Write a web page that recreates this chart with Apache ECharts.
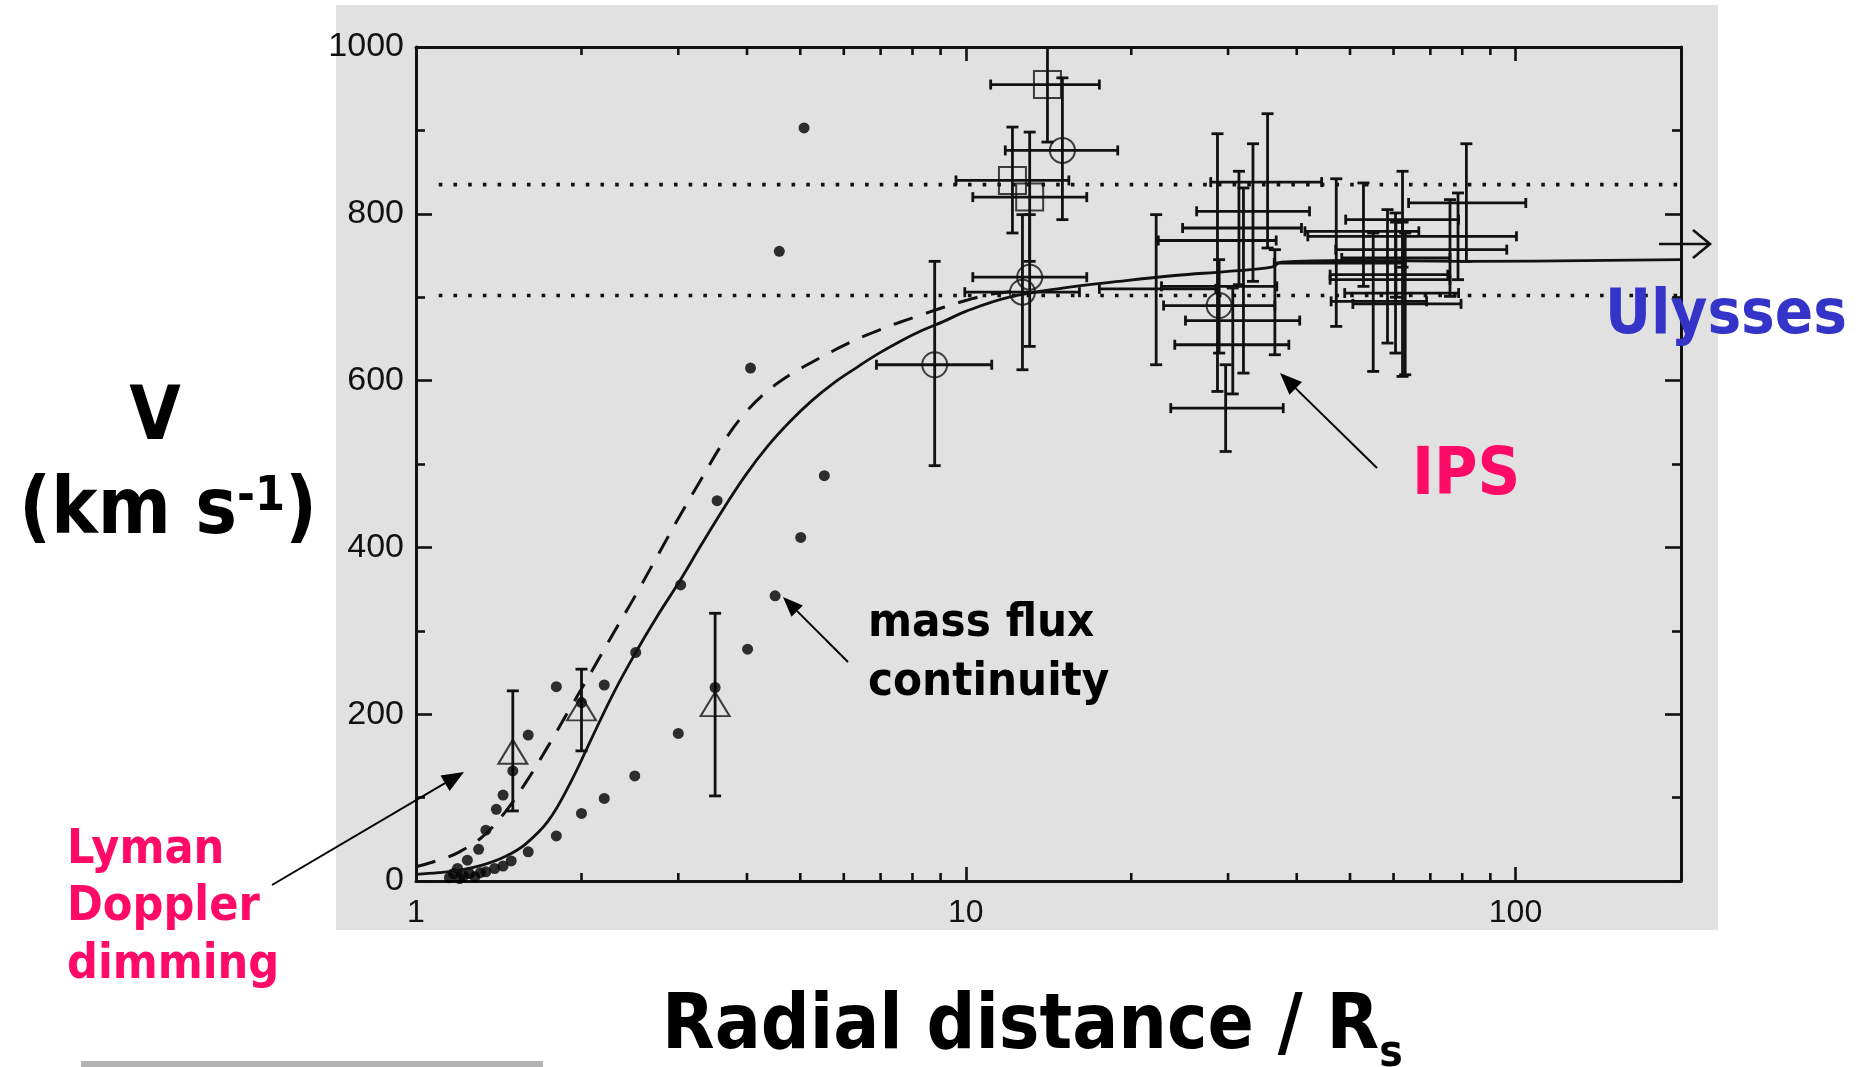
<!DOCTYPE html>
<html>
<head>
<meta charset="utf-8">
<script src="https://cdn.jsdelivr.net/npm/echarts@6/dist/echarts.min.js"></script>
<style>
  html, body { margin: 0; padding: 0; background: #ffffff; }
  #chart { width: 1863px; height: 1067px; }
</style>
</head>
<body>
<div id="chart"></div>
<script>
// ---- Radial distance (R_s) and wind speed (km/s) ----

// Mass-flux-continuity estimates (filled dots)
const massR = [1.15, 1.17, 1.19, 1.20, 1.22, 1.24, 1.25, 1.28, 1.30, 1.31, 1.34, 1.34, 1.39, 1.40, 1.44, 1.44,
               1.49, 1.50, 1.60, 1.60, 1.80, 1.80, 2.00, 2.00, 2.20, 2.20, 2.50, 2.51, 3.00, 3.03, 3.50, 3.53,
               4.01, 4.06, 4.50, 4.58, 5.01, 5.08, 5.53];
const massV = [4, 9, 15, 3, 6, 25, 9, 5, 38, 10, 61, 11, 15, 86, 103, 18,
               24, 132, 35, 175, 54, 233, 81, 214, 99, 235, 126, 274, 177, 355, 232, 456,
               278, 615, 342, 755, 412, 903, 486];

// Lyman-alpha Doppler dimming (open triangles with error bars)
const triR = [1.5, 2.0, 3.5];
const triV = [155, 207, 212];
const triVLo = [84, 156, 102];
const triVHi = [228, 254, 321];

// Open circles with error bars
const circR = [8.78, 14.99, 13.07, 12.68, 28.9];
const circV = [619, 876, 724, 706, 690];
const circRLo = [6.88, 11.8, 10.3, 9.96, 22.9];
const circRHi = [11.15, 18.9, 16.6, 16.1, 36.5];
const circVLo = [498, 793, 641, 613, 633];
const circVHi = [743, 963, 799, 799, 745];

// Open squares with error bars
const sqR = [14.08, 12.16, 13.07];
const sqV = [955, 840, 820];
const sqRLo = [11.1, 9.6, 10.3];
const sqRHi = [17.5, 15.4, 16.6];
const sqVLo = [886, 777, 743];
const sqVHi = [1040, 904, 898];

// IPS measurements (error crosses without a marker)
const ipsR   = [35.4, 33.3, 31.4, 28.7, 32.0, 30.6, 36.5, 29.7, 22.2, 81.4, 78.6, 76.0, 47.2, 52.9, 62.3, 58.5, 60.5, 55.1, 63.0, 62.3, 60.6];
const ipsV   = [838, 803, 783, 768, 713, 643, 672, 567, 710, 813, 773, 757, 741, 779, 793, 727, 721, 695, 692, 705, 747];
const ipsRLo = [27.9, 26.3, 24.8, 22.4, 22.7, 24.0, 25.1, 23.6, 17.5, 63.9, 41.9, 47.1, 36.4, 41.4, 49.1, 46.0, 46.0, 46.2, 50.6, 48.9, 48.3];
const ipsRHi = [44.4, 42.2, 40.8, 36.7, 36.8, 38.7, 40.5, 37.8, 28.5, 104.4, 100.4, 96.4, 63.0, 66.7, 78.8, 75.3, 76.0, 68.9, 79.6, 78.8, 76.0];
const ipsVLo = [759, 719, 715, 587, 609, 584, 631, 515, 619, 743, 721, 701, 665, 713, 736, 645, 633, 611, 607, 605, 700];
const ipsVHi = [920, 884, 851, 896, 831, 711, 757, 619, 799, 884, 825, 817, 842, 837, 851, 805, 801, 777, 777, 790, 790];

// Model curves
const solidR = [1.00, 1.10, 1.20, 1.32, 1.45, 1.58, 1.74, 1.91, 2.09, 2.29, 2.51, 2.75, 3.02, 3.31, 3.63, 3.98,
                4.37, 4.79, 5.25, 5.75, 6.31, 6.92, 7.59, 8.32, 9.12, 10.0, 12, 15, 19, 24, 30, 36, 37.5, 50, 80, 200];
const solidV = [8, 10, 13, 19, 29, 44, 72, 118, 172, 226, 274, 318, 360, 404, 447, 487,
                522, 551, 576, 597, 615, 632, 647, 660, 671, 683, 700, 711, 719, 726, 731, 736, 742, 744, 743, 745];
const dashR = [1.00, 1.10, 1.20, 1.32, 1.45, 1.58, 1.74, 1.91, 2.09, 2.29, 2.51, 2.75, 3.02, 3.31, 3.63, 3.98,
               4.37, 4.79, 5.25, 5.75, 6.31, 6.92, 7.59, 8.32, 9.12, 10.0, 11, 12.5];
const dashV = [17, 25, 35, 53, 82, 117, 162, 208, 252, 298, 343, 390, 438, 483, 527, 562,
               588, 607, 622, 636, 649, 660, 670, 679, 688, 696, 703, 708];

// Ulysses speed band (dotted lines)
const bandR = [1.1, 200];
const bandHigh = 835;
const bandLow = 702;

// Axis ticks and labels
const xLabelVals = ['1', '10', '100'];
const xMinorTicks = [2, 3, 4, 5, 6, 7, 8, 9, 20, 30, 40, 50, 60, 70, 80, 90];
const yMin = 0, yMax = 1000, yStep = 200;

// ---- styling ----
const INK = '#111111';
const PINK = '#ff0a66';
const BLUE = '#3434c8';
const SLIDE_FONT = "'DejaVu Sans Condensed', 'DejaVu Sans', sans-serif";
const PLOT_FONT = "'Liberation Sans', Arial, sans-serif";
const BAR_W = 2.8;

const pairs = (xs, ys) => xs.map((x, i) => [x, ys[i]]);
const crosses = (r, v, rl, rh, vl, vh) => r.map((x, i) => [x, v[i], rl[i], rh[i], vl[i], vh[i]]);

function xAxisDef(position, showLabel) {
  return {
    type: 'log', logBase: 10, min: 1, max: 200, position: position,
    axisLine: { show: true, onZero: false, lineStyle: { color: INK, width: 3 } },
    axisTick: { show: true, inside: true, length: 14, lineStyle: { color: INK, width: 2.6 } },
    axisLabel: {
      show: showLabel, color: INK, fontFamily: PLOT_FONT, fontSize: 32, margin: 16,
      formatter: v => (xLabelVals.indexOf(String(Math.round(v))) >= 0 ? String(Math.round(v)) : '')
    },
    splitLine: { show: false }
  };
}

function yAxisDef(position, showLabel) {
  return {
    type: 'value', min: yMin, max: yMax, interval: yStep, position: position,
    axisLine: { show: true, onZero: false, lineStyle: { color: INK, width: 3 } },
    axisTick: { show: true, inside: true, length: 16, lineStyle: { color: INK, width: 2.6 } },
    minorTick: { show: true, splitNumber: 2, length: 9, lineStyle: { color: INK, width: 2.6 } },
    axisLabel: {
      show: showLabel, color: INK, fontFamily: PLOT_FONT, fontSize: 34, margin: 12,
      formatter: v => String(v)
    },
    splitLine: { show: false }
  };
}

// Error cross: horizontal bar (radial range) and vertical bar (speed range), both capped
function renderCross(params, api) {
  const x = api.value(0), v = api.value(1);
  const xl = api.value(2), xh = api.value(3), vl = api.value(4), vh = api.value(5);
  const style = { stroke: INK, lineWidth: BAR_W, fill: null };
  const cap = 5;
  const kids = [];
  if (xh > xl) {
    const a = api.coord([xl, v]), b = api.coord([xh, v]);
    kids.push({ type: 'line', shape: { x1: a[0], y1: a[1], x2: b[0], y2: b[1] }, style: style });
    kids.push({ type: 'line', shape: { x1: a[0], y1: a[1] - cap, x2: a[0], y2: a[1] + cap }, style: style });
    kids.push({ type: 'line', shape: { x1: b[0], y1: b[1] - cap, x2: b[0], y2: b[1] + cap }, style: style });
  }
  if (vh > vl) {
    const a = api.coord([x, vl]), b = api.coord([x, vh]);
    kids.push({ type: 'line', shape: { x1: a[0], y1: a[1], x2: b[0], y2: b[1] }, style: style });
    kids.push({ type: 'line', shape: { x1: a[0] - cap - 1, y1: a[1], x2: a[0] + cap + 1, y2: a[1] }, style: style });
    kids.push({ type: 'line', shape: { x1: b[0] - cap - 1, y1: b[1], x2: b[0] + cap + 1, y2: b[1] }, style: style });
  }
  return { type: 'group', children: kids };
}

// Intermediate log ticks on the bottom and top frame edges
function renderMinorTick(params, api) {
  const t = api.value(0);
  const b = api.coord([t, yMin]), tp = api.coord([t, yMax]);
  const style = { stroke: INK, lineWidth: 2.6 };
  return {
    type: 'group', children: [
      { type: 'line', shape: { x1: b[0], y1: b[1], x2: b[0], y2: b[1] - 8 }, style: style },
      { type: 'line', shape: { x1: tp[0], y1: tp[1], x2: tp[0], y2: tp[1] + 8 }, style: style }
    ]
  };
}

function arrow(x1, y1, x2, y2, len, wid) {
  const ang = Math.atan2(y2 - y1, x2 - x1);
  const bx = x2 - len * Math.cos(ang), by = y2 - len * Math.sin(ang);
  const nx = -Math.sin(ang) * wid / 2, ny = Math.cos(ang) * wid / 2;
  return [
    { type: 'line', shape: { x1: x1, y1: y1, x2: bx, y2: by }, style: { stroke: '#000', lineWidth: 2 }, z: 50 },
    { type: 'polygon', shape: { points: [[x2, y2], [bx + nx, by + ny], [bx - nx, by - ny]] }, style: { fill: '#000' }, z: 50 }
  ];
}

function label(text, x, y, size, color, align, extra) {
  return {
    type: 'text', x: x, y: y, z: 50,
    style: Object.assign({
      text: text, fill: color, fontSize: size, fontFamily: SLIDE_FONT, fontWeight: 'bold',
      align: align, textAlign: align, verticalAlign: 'middle', textVerticalAlign: 'middle'
    }, extra || {})
  };
}

const hollow = { color: 'rgba(0,0,0,0)', borderColor: INK, borderWidth: 2 };

const option = {
  animation: false,
  backgroundColor: '#ffffff',
  grid: { left: 416, top: 47, width: 1265, height: 834, containLabel: false },
  xAxis: [xAxisDef('bottom', true), xAxisDef('top', false)],
  yAxis: [yAxisDef('left', true), yAxisDef('right', false)],
  graphic: {
    elements: [
      { type: 'rect', z: -100, shape: { x: 336, y: 5, width: 1382, height: 925 }, style: { fill: '#e1e1e1' } },
      { type: 'rect', z: -100, shape: { x: 81, y: 1061, width: 462, height: 6 }, style: { fill: '#b3b3b3' } },
      label('V', 155, 420, 74, '#000', 'center'),
      label('(km s{sup|-1})', 168, 513, 78, '#000', 'center', {
        lineHeight: 78,
        rich: { sup: { fontSize: 48, fontFamily: SLIDE_FONT, fontWeight: 'bold', fill: '#000', lineHeight: 48, verticalAlign: 'top' } }
      }),
      label('Radial distance / R{sub|s}', 662, 1028, 76, '#000', 'left', {
        lineHeight: 98,
        rich: { sub: { fontSize: 44, fontFamily: SLIDE_FONT, fontWeight: 'bold', fill: '#000', lineHeight: 44, verticalAlign: 'bottom' } }
      }),
      label('Ulysses', 1605, 317, 63, BLUE, 'left'),
      label('IPS', 1412, 477, 66, PINK, 'left'),
      label('mass flux', 868, 624, 47, '#000', 'left'),
      label('continuity', 868, 683, 47, '#000', 'left'),
      label('Lyman', 67, 851, 48, PINK, 'left'),
      label('Doppler', 67, 908, 48, PINK, 'left'),
      label('dimming', 67, 966, 48, PINK, 'left'),
      ...arrow(1377, 468, 1280, 373, 22, 18),
      ...arrow(848, 662, 783, 597, 20, 16),
      ...arrow(272, 885, 464, 772, 22, 18),
      { type: 'line', z: 50, shape: { x1: 1659, y1: 244, x2: 1710, y2: 244 }, style: { stroke: INK, lineWidth: 2.6 } },
      { type: 'polyline', z: 50, shape: { points: [[1693, 230], [1710, 244], [1693, 258]] }, style: { stroke: INK, lineWidth: 2.6, fill: null } }
    ]
  },
  series: [
    {
      type: 'line', name: 'upper band', data: pairs(bandR, [bandHigh, bandHigh]), symbol: 'none', silent: true,
      lineStyle: { color: INK, width: 3.6, type: [3.6, 11.1] }
    },
    {
      type: 'line', name: 'lower band', data: pairs(bandR, [bandLow, bandLow]), symbol: 'none', silent: true,
      lineStyle: { color: INK, width: 3.6, type: [3.6, 11.1] }
    },
    {
      type: 'line', name: 'model', data: pairs(solidR, solidV), symbol: 'none', smooth: 0.4, silent: true,
      lineStyle: { color: INK, width: 2.8 }
    },
    {
      type: 'line', name: 'model (dashed)', data: pairs(dashR, dashV), symbol: 'none', smooth: 0.4, silent: true,
      lineStyle: { color: INK, width: 3, type: [20, 14] }
    },
    {
      type: 'scatter', name: 'mass flux continuity', data: pairs(massR, massV), symbol: 'circle', symbolSize: 11,
      itemStyle: { color: '#000' }
    },
    {
      type: 'custom', name: 'triangle bars', renderItem: renderCross, clip: true, encode: { x: 0, y: 1 },
      data: crosses(triR, triV, triR, triR, triVLo, triVHi)
    },
    {
      type: 'scatter', name: 'Lyman Doppler dimming', data: pairs(triR, triV), symbol: 'triangle', symbolSize: [29, 24],
      itemStyle: hollow
    },
    {
      type: 'custom', name: 'circle bars', renderItem: renderCross, clip: true, encode: { x: 0, y: 1 },
      data: crosses(circR, circV, circRLo, circRHi, circVLo, circVHi)
    },
    {
      type: 'scatter', name: 'circles', data: pairs(circR, circV), symbol: 'circle', symbolSize: 25, itemStyle: hollow
    },
    {
      type: 'custom', name: 'square bars', renderItem: renderCross, clip: true, encode: { x: 0, y: 1 },
      data: crosses(sqR, sqV, sqRLo, sqRHi, sqVLo, sqVHi)
    },
    {
      type: 'scatter', name: 'squares', data: pairs(sqR, sqV), symbol: 'rect', symbolSize: 27, itemStyle: hollow
    },
    {
      type: 'custom', name: 'IPS', renderItem: renderCross, clip: true, encode: { x: 0, y: 1 },
      data: crosses(ipsR, ipsV, ipsRLo, ipsRHi, ipsVLo, ipsVHi)
    },
    {
      type: 'custom', name: 'log ticks', renderItem: renderMinorTick, clip: false, silent: true, encode: { x: 0, y: 1 },
      data: xMinorTicks.map(t => [t, yMin])
    }
  ]
};

const chart = echarts.init(document.getElementById('chart'), null, { renderer: 'canvas' });
chart.setOption(option);
</script>
</body>
</html>
